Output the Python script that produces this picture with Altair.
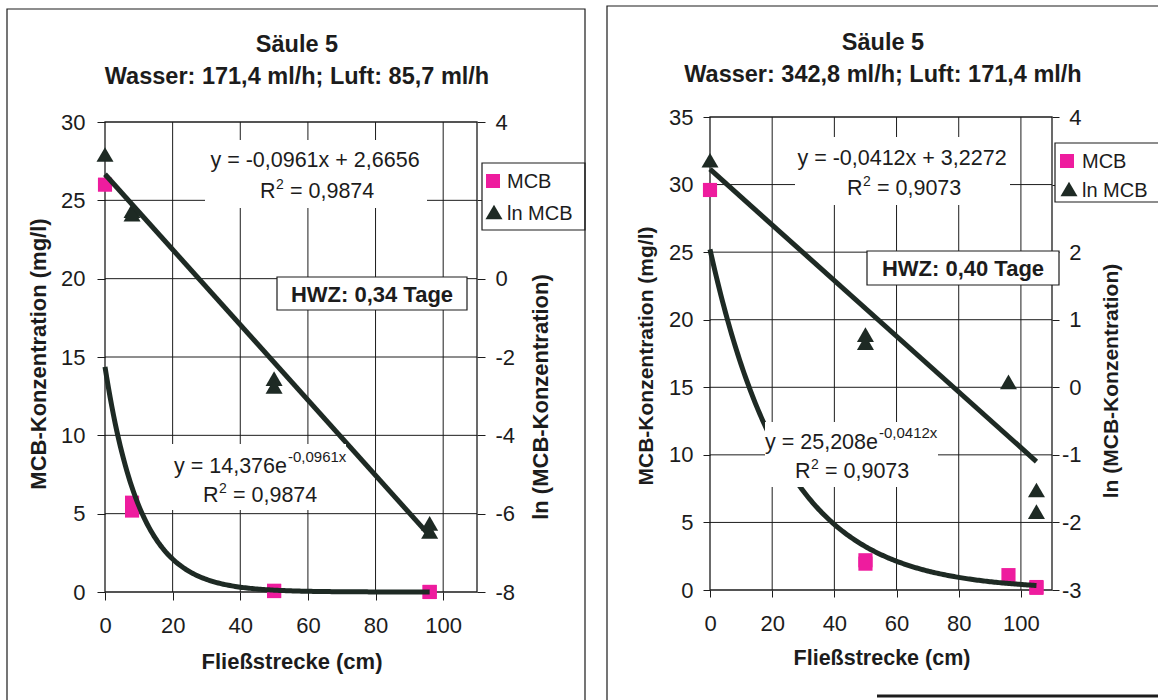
import altair as alt
import pandas as pd

W, H = 1158, 700
FONT = "Liberation Sans"
INK = "#1c1c1c"
PINK = "#EE1C9E"
DARK = "#1E2A24"

# ---- shared axis ticks -------------------------------------------------
x_ticks = [0, 20, 40, 60, 80, 100]

# ---- Säule 5, Wasser 171,4 ml/h, Luft 85,7 ml/h -------------------------
left_mcb_x = [0, 8, 8, 50, 50, 96, 96]
left_mcb = [26.0, 5.7, 5.2, 0.08, 0.06, 0.002, 0.002]
left_ln_x = [0, 8, 8, 50, 50, 96, 96]
left_ln = [3.17, 1.74, 1.65, -2.55, -2.75, -6.25, -6.45]
left_lin = [-0.0961, 2.6656]      # ln(c) = a*x + b
left_exp = [14.376, -0.0961]      # c = k * e^(r*x)
left_fit_end = 96
left_y_ticks = [0, 5, 10, 15, 20, 25, 30]
left_ln_ticks = [-8, -6, -4, -2, 0, 2, 4]

# ---- Säule 5, Wasser 342,8 ml/h, Luft 171,4 ml/h ------------------------
right_mcb_x = [0, 50, 50, 96, 105, 105]
right_mcb = [29.6, 2.2, 1.95, 1.1, 0.22, 0.16]
right_ln_x = [0, 50, 50, 96, 105, 105]
right_ln = [3.36, 0.78, 0.66, 0.08, -1.52, -1.84]
right_lin = [-0.0412, 3.2272]
right_exp = [25.208, -0.0412]
right_fit_end = 105
right_y_ticks = [0, 5, 10, 15, 20, 25, 30, 35]
right_ln_ticks = [-3, -2, -1, 0, 1, 2, 3, 4]


def sc(domain, rng):
    return alt.Scale(domain=domain, range=rng, nice=False, zero=False)


def axis(orient, offset, values, tick, pad, **extra):
    return alt.Axis(orient=orient, offset=offset, values=values, title=None,
                    grid=False, domain=False, ticks=True, tickSize=tick,
                    tickColor=INK, tickWidth=1, labelPadding=pad,
                    labelFont=FONT, labelFontSize=22, labelColor=INK,
                    labelFlush=False, labelOverlap=False,
                    labelExpr="'' + datum.value", **extra)


def txt(s, x, y, size=21.5, bold=False, align="center", angle=0):
    mk = dict(font=FONT, fontSize=size, color=INK, align=align, baseline="alphabetic")
    if bold:
        mk["fontWeight"] = "bold"
    if angle:
        mk["angle"] = angle
    return alt.Chart(pd.DataFrame({"t": [s]})).mark_text(**mk).encode(
        text="t:N", x=alt.value(x), y=alt.value(y))


def r2(value, x, y):
    # "R" with a raised "2", then the coefficient of determination
    return [txt("R", x, y, align="left"),
            txt("2", x + 16, y - 9, size=14, align="left"),
            txt("= " + value, x + 30, y, align="left")]


def box(x, x2, y, y2, stroke=False, fill=True):
    mk = dict(fill="white") if fill else dict(fillOpacity=0)
    if stroke:
        mk.update(stroke=INK, strokeWidth=1.2)
    return alt.Chart(pd.DataFrame({"k": [0]})).mark_rect(**mk).encode(
        x=alt.value(x), x2=alt.value(x2), y=alt.value(y), y2=alt.value(y2))


def glyph(kind, x, y):
    df = pd.DataFrame({"k": [0]})
    if kind == "square":
        ch = alt.Chart(df).mark_square(size=196, color=PINK, opacity=1)
    else:
        ch = alt.Chart(df).mark_point(shape="triangle-up", filled=True,
                                      size=289, color=DARK, opacity=1)
    return ch.encode(x=alt.value(x), y=alt.value(y))


def panel(p):
    x0, x1, y0, y1 = p["box"]
    xdom, ydom, lndom = p["xdom"], p["ydom"], p["lndom"]
    tl, pl, tr, pr, ralign, pb = p["ax"]

    # grid lines at the tick positions inside the plot area
    rows = [{"x": v, "x2": v, "y": ydom[0], "y2": ydom[1]}
            for v in x_ticks if xdom[0] < v < xdom[1]]
    rows += [{"x": xdom[0], "x2": xdom[1], "y": v, "y2": v}
             for v in p["yticks"] if ydom[0] < v < ydom[1]]
    grid = alt.Chart(pd.DataFrame(rows)).mark_rule(color=INK, strokeWidth=1).encode(
        x=alt.X("x:Q", scale=sc(xdom, [x0, x1]), axis=None), x2="x2:Q",
        y=alt.Y("y:Q", scale=sc(ydom, [y1, y0]), axis=None), y2="y2:Q")

    border = alt.Chart(pd.DataFrame([{"x": xdom[0], "x2": xdom[1], "y": ydom[0], "y2": ydom[1]}])
                       ).mark_rect(fillOpacity=0, stroke=INK, strokeWidth=1.3).encode(
        x=alt.X("x:Q", scale=sc(xdom, [x0, x1]), axis=None), x2="x2:Q",
        y=alt.Y("y:Q", scale=sc(ydom, [y1, y0]), axis=None), y2="y2:Q")

    squares = alt.Chart(pd.DataFrame({"x": p["mcb_x"], "c": p["mcb"]})).mark_square(
        size=200, color=PINK, opacity=1).encode(
        x=alt.X("x:Q", scale=sc(xdom, [x0, x1]),
                axis=axis("bottom", -(H - y1), x_ticks, tl, pb)),
        y=alt.Y("c:Q", scale=sc(ydom, [y1, y0]),
                axis=axis("left", -x0, p["yticks"], tl, pl)))

    triangles = alt.Chart(pd.DataFrame({"x": p["ln_x"], "l": p["ln"]})).mark_point(
        shape="triangle-up", filled=True, size=289, color=DARK, opacity=1).encode(
        x=alt.X("x:Q", scale=sc(xdom, [x0, x1]), axis=None),
        y=alt.Y("l:Q", scale=sc(lndom, [y1, y0]),
                axis=axis("right", x1 - W, p["lnticks"], tr, pr, labelAlign=ralign)))

    a, b = p["lin"]
    lin = alt.Chart(pd.DataFrame({"x": [0, p["end"]]})).transform_calculate(
        l=f"{a} * datum.x + {b}").mark_line(color=DARK, strokeWidth=5).encode(
        x=alt.X("x:Q", scale=sc(xdom, [x0, x1]), axis=None),
        y=alt.Y("l:Q", scale=sc(lndom, [y1, y0]), axis=None))

    k, r = p["exp"]
    expo = alt.Chart(alt.sequence(0, p["end"] + 0.25, 0.5, as_="x")).transform_calculate(
        c=f"{k} * exp({r} * datum.x)").mark_line(color=DARK, strokeWidth=5).encode(
        x=alt.X("x:Q", scale=sc(xdom, [x0, x1]), axis=None),
        y=alt.Y("c:Q", scale=sc(ydom, [y1, y0]), axis=None))

    return [grid, border, squares, triangles, lin, expo]


left = dict(box=(105, 477, 122, 592), xdom=[0, 110], ydom=[0, 30], lndom=[-8, 4],
            yticks=left_y_ticks, lnticks=left_ln_ticks,
            mcb_x=left_mcb_x, mcb=left_mcb, ln_x=left_ln_x, ln=left_ln,
            lin=left_lin, exp=left_exp, end=left_fit_end,
            ax=(8, 12, 8, 10, "left", 15))
right = dict(box=(710, 1052, 117, 590), xdom=[0, 110], ydom=[0, 35], lndom=[-3, 4],
             yticks=right_y_ticks, lnticks=right_ln_ticks,
             mcb_x=right_mcb_x, mcb=right_mcb, ln_x=right_ln_x, ln=right_ln,
             lin=right_lin, exp=right_exp, end=right_fit_end,
             ax=(7, 10, 7, 22, "right", 16))

layers = panel(left) + panel(right)

# regression labels on white boxes
layers += [
    box(205, 427, 140, 208),
    txt("y = -0,0961x + 2,6656", 315, 167),
    *r2("0,9874", 260, 198),
    box(170, 346, 444, 510),
    txt("y = 14,376e", 287, 473, align="right"),
    txt("-0,0961x", 288, 462, size=15, align="left"),
    *r2("0,9874", 203, 502),
    box(795, 1010, 137, 205),
    txt("y = -0,0412x + 3,2272", 902, 165),
    *r2("0,9073", 847, 195),
    box(765, 938, 422, 487),
    txt("y = 25,208e", 878, 449, align="right"),
    txt("-0,0412x", 879, 438, size=15, align="left"),
    *r2("0,9073", 795, 478),
]

# half-life boxes
layers += [
    box(277, 467, 277, 310, stroke=True),
    txt("HWZ: 0,34 Tage", 372, 302, size=22, bold=True),
    box(867, 1059, 251, 285, stroke=True),
    txt("HWZ: 0,40 Tage", 963, 276, size=22, bold=True),
]

# legends
layers += [
    box(482, 585, 163, 230, stroke=True),
    glyph("square", 493, 181), glyph("triangle", 494, 212),
    txt("MCB", 507, 188, size=20, align="left"),
    txt("ln MCB", 507, 220, size=20, align="left"),
    box(1055, 1165, 143, 202, stroke=True),
    glyph("square", 1067, 161), glyph("triangle", 1069, 189),
    txt("MCB", 1082, 168, size=20, align="left"),
    txt("ln MCB", 1082, 197, size=20, align="left"),
]

# titles and axis titles
layers += [
    txt("Säule 5", 297, 52, size=23.5, bold=True),
    txt("Wasser: 171,4 ml/h; Luft: 85,7 ml/h", 297, 84, size=23.5, bold=True),
    txt("Säule 5", 883, 50, size=23.5, bold=True),
    txt("Wasser: 342,8 ml/h; Luft: 171,4 ml/h", 883, 82, size=23.5, bold=True),
    txt("Fließstrecke (cm)", 292, 669, size=22, bold=True),
    txt("MCB-Konzentration (mg/l)", 46, 354, size=22, bold=True, angle=270),
    txt("ln (MCB-Konzentration)", 548, 397, size=22, bold=True, angle=270),
    txt("Fließstrecke (cm)", 882, 665, size=21.5, bold=True),
    txt("MCB-Konzentration (mg/l)", 653, 356, size=21, bold=True, angle=270),
    txt("ln (MCB-Konzentration)", 1118, 381, size=21, bold=True, angle=270),
]

# chart frames
layers += [
    box(7, 585, 9, 712, stroke=True, fill=False),
    box(607, 1170, 6, 712, stroke=True, fill=False),
    alt.Chart(pd.DataFrame({"k": [0]})).mark_rule(color=INK, strokeWidth=3).encode(
        x=alt.value(877), x2=alt.value(1158), y=alt.value(696)),
]

chart = alt.layer(*layers).resolve_scale(x="independent", y="independent").properties(
    width=W, height=H, autosize=alt.AutoSizeParams(type="none"),
    padding={"left": 0, "top": 0, "right": 0, "bottom": 0}, background="white"
).configure_view(strokeWidth=0)

chart.save("out.html", embed_options={"renderer": "svg", "actions": False})
